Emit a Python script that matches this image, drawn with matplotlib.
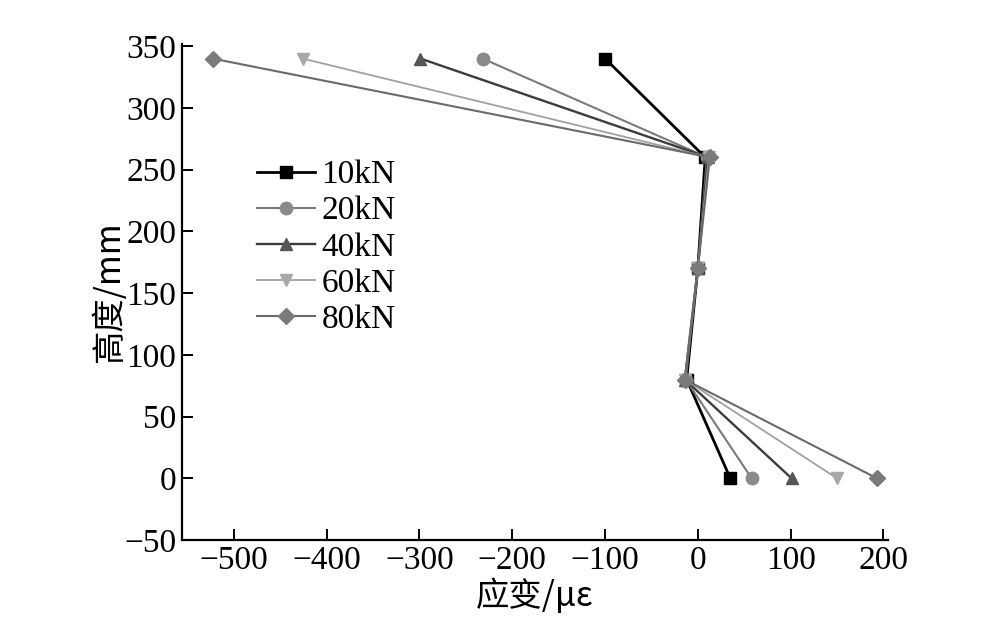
import matplotlib
matplotlib.use('Agg')
import matplotlib.pyplot as plt

# 数据
height = [340, 260, 170, 80, 0]
labels = ['10kN', '20kN', '40kN', '60kN', '80kN']
s10 = [-100, 8, 0, -12, 35]
s20 = [-232, 10, 0, -13, 58]
s40 = [-299, 11, 0, -14, 101]
s60 = [-426, 12, 0, -14, 150]
s80 = [-523, 13, 0, -14, 193]

series = [s10, s20, s40, s60, s80]
markers = ['s', 'o', '^', 'v', 'D']
colors = ['black', '#7a7a7a', '#3c3c3c', '#a0a0a0', '#6a6a6a']
mcolors = ['black', '#8a8a8a', '#555555', '#a8a8a8', '#7a7a7a']
lws = [2.0, 1.5, 1.7, 1.3, 1.5]
msizes = [9, 9, 9, 9, 8]

plt.rcParams['font.family'] = ['Liberation Serif', 'Noto Sans CJK SC']
plt.rcParams['axes.unicode_minus'] = True

fig = plt.figure(figsize=(10, 6.25), dpi=100)
ax = fig.add_axes([0.182, 0.136, 0.706, 0.794])

for i in range(len(series)):
    ax.plot(series[i], height, color=colors[i], lw=lws[i],
            marker=markers[i], ms=msizes[i], mfc=mcolors[i], mec=mcolors[i],
            label=labels[i])

ax.set_xlim(-556, 205)
ax.set_ylim(-50, 352)
ax.set_xticks(range(-500, 201, 100))
ax.set_yticks(range(-50, 351, 50))
ax.spines['top'].set_visible(False)
ax.spines['right'].set_visible(False)
ax.spines['left'].set_linewidth(1.6)
ax.spines['bottom'].set_linewidth(1.6)
ax.tick_params(direction='in', length=8, width=1.4, labelsize=24, pad=4)

ax.set_xlabel('应变/με', fontsize=24, labelpad=2,
              family=['Noto Sans CJK SC', 'Liberation Serif'])
ax.set_ylabel('高度/mm', fontsize=24, labelpad=-2,
              family=['Noto Sans CJK SC', 'Liberation Serif'])

ax.legend(loc='upper left', bbox_to_anchor=(0.082, 0.80), frameon=False,
          fontsize=24, handlelength=1.75, handletextpad=0.2,
          labelspacing=0.17, borderpad=0)

fig.savefig('out.png', dpi=100)
